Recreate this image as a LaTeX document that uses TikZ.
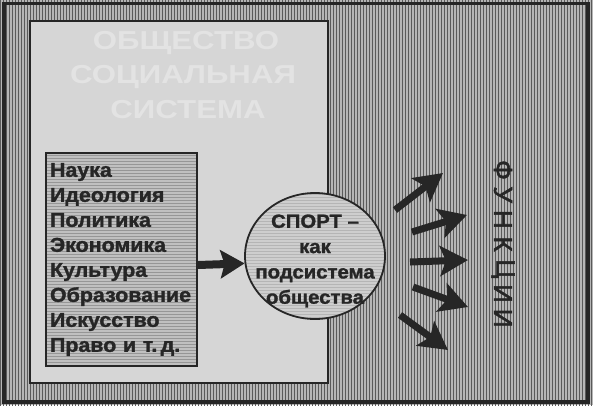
\documentclass[tikz,border=0pt]{standalone}
\usepackage{fontspec}
\setmainfont{Liberation Sans}
\newfontfamily\diagfont[FakeStretch=1.07, FakeBold=1.5]{Liberation Sans Bold}
\newfontfamily\funcfont[FakeBold=2]{Liberation Sans}
\newfontfamily\ghostfont[FakeStretch=1.2]{Liberation Sans Bold}
\usetikzlibrary{arrows.meta, patterns, shapes.geometric}
\definecolor{scanInk}{RGB}{38,38,38}
\definecolor{scanGrey}{RGB}{182,182,182}
\definecolor{scanStripe}{RGB}{90,90,90}
\definecolor{scanPage}{RGB}{214,214,214}
\definecolor{scanBox}{RGB}{192,192,192}
\definecolor{scanRing}{RGB}{206,206,206}
\definecolor{scanHatch}{RGB}{150,150,150}
\definecolor{scanGhost}{RGB}{227,227,227}

\begin{document}
\begin{tikzpicture}[
    x=1pt, y=-1pt,
    listbox/.style={draw=scanInk, line width=1.8pt, preaction={fill=scanBox}, pattern=horizontal lines, pattern color=scanHatch, minimum width=151pt, minimum height=213pt, text width=143pt, inner sep=0pt, align=left, text=scanInk, font=\diagfont\fontsize{20}{25}\selectfont},
    sportring/.style={ellipse, draw=scanInk, line width=1.8pt, preaction={fill=scanRing}, pattern=horizontal lines, pattern color=scanHatch!70, minimum width=140pt, minimum height=126pt, inner sep=0pt},
    sporttext/.style={align=center, inner sep=0pt, text=scanInk, font=\diagfont\fontsize{19}{25.3}\selectfont},
    headline/.style={inner sep=0pt, text=scanGhost, font=\ghostfont\fontsize{26}{26}\selectfont},
    funcletter/.style={rotate=-90, inner sep=0pt, text=scanInk, font=\funcfont\fontsize{26}{26}\selectfont},
    bigarrow/.style={-{Stealth[length=24pt, width=28pt, inset=4pt]}, line width=8pt, draw=scanInk},
    fanarrow/.style={-{Stealth[length=28pt, width=30pt, inset=6pt]}, line width=7pt, draw=scanInk}
]
    \useasboundingbox (0,0) rectangle (593,405);

    % striped background and frames
    \fill[scanGrey] (0,0) rectangle (593,405);
    \fill[pattern=vertical lines, pattern color=scanStripe] (0,0) rectangle (593,405);
    \draw[scanInk, line width=3.5pt] (4,3.5) rectangle (588,402);
    \filldraw[fill=scanPage, draw=scanInk, line width=2.5pt] (30,21) rectangle (328,383);

    \node[headline] (headA) at (186,43) {ОБЩЕСТВО};
    \node[headline] (headB) at (183,77) {СОЦИАЛЬНАЯ};
    \node[headline] (headC) at (188,110) {СИСТЕМА};

    \node[listbox] (list) at (121.5,259.5) {Наука\\Идеология\\Политика\\Экономика\\Культура\\Образование\\Искусство\\Право и т.\,д.};
    \node[sportring] (sport) at (315,256) {};
    \node[sporttext] (sporttext) at ([yshift=-5pt]sport.center) {СПОРТ –\\как\\подсистема\\общества};

    \draw[bigarrow] ([yshift=-5.5pt]list.east) -- (sport.186);

    % arrows towards the functions
    \foreach \i/\sx/\sy/\ex/\ey in {1/395/210/443/173, 2/412/232/467/215, 3/410/262/468/260, 4/413/287/468/307, 5/400/315/448/350} {
        \coordinate (s\i) at (\sx,\sy);
        \coordinate (e\i) at (\ex,\ey);
        \draw[fanarrow] (s\i) -- (e\i);
    }

    \foreach \c [count=\i] in {Ф,У,Н,К,Ц,И,И}
        \node[funcletter] (func\i) at (503,{145.3+24.7*\i}) {\c};
\end{tikzpicture}
\end{document}
